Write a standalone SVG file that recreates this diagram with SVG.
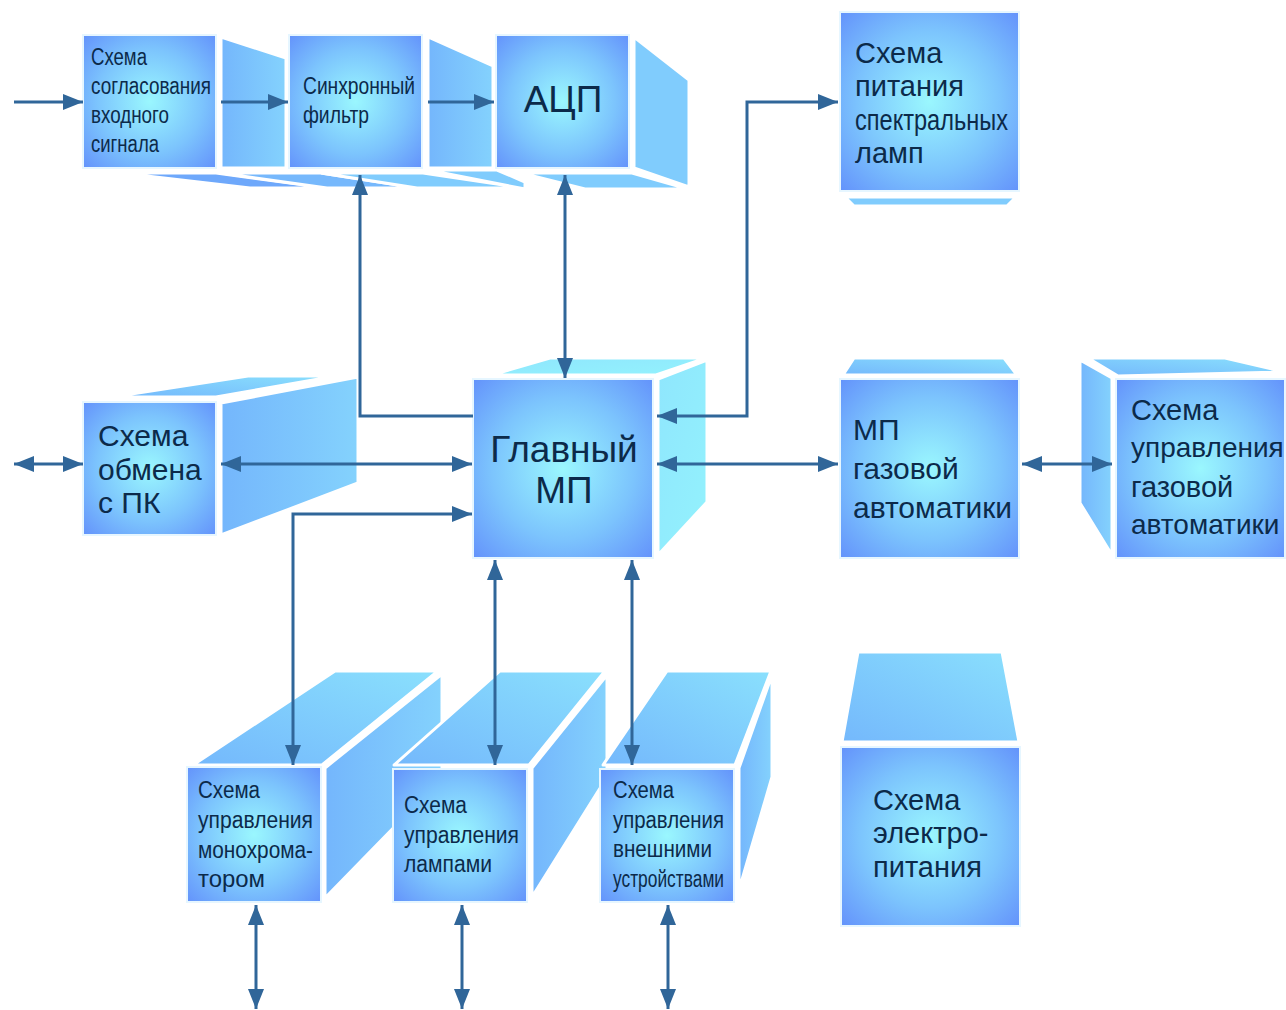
<svg xmlns="http://www.w3.org/2000/svg" width="1286" height="1010" viewBox="0 0 1286 1010">
<defs>
<radialGradient id="gFront" cx="50%" cy="50%" r="72%">
<stop offset="0" stop-color="#9af7fe"/>
<stop offset="0.55" stop-color="#7cc4fd"/>
<stop offset="1" stop-color="#6290fb"/>
</radialGradient>
<linearGradient id="gSide" x1="0" y1="0" x2="1" y2="0">
<stop offset="0" stop-color="#74b6fc"/>
<stop offset="1" stop-color="#84d2fd"/>
</linearGradient>
<linearGradient id="gTop" x1="0" y1="1" x2="1" y2="0">
<stop offset="0" stop-color="#74b8fc"/>
<stop offset="1" stop-color="#8ae0fd"/>
</linearGradient>
<linearGradient id="gCyan" x1="0" y1="0" x2="1" y2="1">
<stop offset="0" stop-color="#8fe6fd"/>
<stop offset="1" stop-color="#93f2fd"/>
</linearGradient>
<marker id="ah" markerUnits="userSpaceOnUse" markerWidth="20" markerHeight="16" refX="20" refY="8" orient="auto-start-reverse">
<path d="M0,0 L20,8 L0,16 z" fill="#306699"/>
</marker>
</defs>
<style>
.front{fill:url(#gFront);stroke:#e6f6ff;stroke-width:2}
.side{fill:url(#gSide);stroke:#ffffff;stroke-width:3;stroke-linejoin:round}
.top{fill:url(#gTop);stroke:#ffffff;stroke-width:3;stroke-linejoin:round}
.cyan{fill:url(#gCyan);stroke:#ffffff;stroke-width:3}
.s1{fill:#6ea8fb;stroke:#fff;stroke-width:3}
.s2{fill:#76b8fc;stroke:#fff;stroke-width:3}
.s3{fill:#80ccfd;stroke:#fff;stroke-width:3}
text{font-family:"Liberation Sans",Arial,sans-serif;fill:#0c2a4a}
.sm{font-size:23px}
.md{font-size:30px}
.lg{font-size:37px}
.conn{fill:none;stroke:#306699;stroke-width:3}
</style>

<g id="n1">
<polygon class="s1" points="121,173 216,173 327,188 250,188"/>
<polygon class="s2" points="221,173 321,173 417,188 327,188"/>
<polygon class="side" points="221,37 286,58 286,168 221,168"/>
<rect class="front" x="83" y="35" width="133" height="133"/>
<text class="sm" x="91" y="65" textLength="56" lengthAdjust="spacingAndGlyphs">Схема</text>
<text class="sm" x="91" y="94" textLength="120" lengthAdjust="spacingAndGlyphs">согласования</text>
<text class="sm" x="91" y="123" textLength="78" lengthAdjust="spacingAndGlyphs">входного</text>
<text class="sm" x="91" y="152" textLength="68" lengthAdjust="spacingAndGlyphs">сигнала</text>
</g>

<g id="n2">
<polygon class="s3" points="321,173 423,173 523,188 417,188"/>
<polygon class="s3" points="428,170 497,170 525,182 525,189"/>
<polygon class="side" points="428,37 493,66 493,168 428,168"/>
<rect class="front" x="289" y="35" width="133" height="133"/>
<text class="sm" x="303" y="94" textLength="112" lengthAdjust="spacingAndGlyphs">Синхронный</text>
<text class="sm" x="303" y="123" textLength="66" lengthAdjust="spacingAndGlyphs">фильтр</text>
</g>

<g id="n3">
<polygon class="s3" points="521,173 632,173 688,189 585,189"/>
<polygon class="s3" points="634,37 689,80 689,187 634,168"/>
<rect class="front" x="496" y="35" width="133" height="133"/>
<text class="lg" x="563" y="112" text-anchor="middle">АЦП</text>
</g>

<g id="n4">
<polygon class="s3" points="845,197 1016,197 1007,206 854,206"/>
<rect class="front" x="840" y="12" width="179" height="179"/>
<text class="md" style="font-size:29px" x="855" y="63">Схема</text>
<text class="md" style="font-size:29px" x="855" y="96">питания</text>
<text class="md" style="font-size:29px" x="855" y="130" textLength="153" lengthAdjust="spacingAndGlyphs">спектральных</text>
<text class="md" style="font-size:29px" x="855" y="163">ламп</text>
</g>

<g id="n5">
<polygon class="top" points="112,397 248,376 336,376 216,397"/>
<polygon class="side" points="221,403 358,377 358,483 221,535"/>
<rect class="front" x="83" y="402" width="133" height="133"/>
<text class="md" x="98" y="446">Схема</text>
<text class="md" x="98" y="480">обмена</text>
<text class="md" x="98" y="513">с ПК</text>
</g>

<g id="n6">
<polygon class="cyan" points="492,375 550,358 706,358 656,375"/>
<polygon class="cyan" points="658,379 707,360 707,502 658,555"/>
<rect class="front" x="473" y="379" width="180" height="179"/>
<text class="lg" x="564" y="462" text-anchor="middle">Главный</text>
<text class="lg" x="564" y="503" text-anchor="middle">МП</text>
</g>

<g id="n7">
<polygon class="top" points="843,375 1017,375 1004,358 854,358"/>
<rect class="front" x="840" y="379" width="179" height="179"/>
<text class="md" x="853" y="440">МП</text>
<text class="md" x="853" y="479">газовой</text>
<text class="md" x="853" y="518">автоматики</text>
</g>

<g id="n8">
<polygon class="top" points="1088,358 1225,358 1285,372 1118,376"/>
<polygon class="side" points="1080,360 1112,378 1112,555 1080,503"/>
<rect class="front" x="1116" y="379" width="169" height="179"/>
<text class="md" style="font-size:29px" x="1131" y="420">Схема</text>
<text class="md" style="font-size:28px" x="1131" y="457">управления</text>
<text class="md" style="font-size:29px" x="1131" y="497">газовой</text>
<text class="md" style="font-size:28px" x="1131" y="534">автоматики</text>
</g>

<g id="n9">
<polygon class="top" points="193,765 335,671 438,671 322,765"/>
<polygon class="side" points="325,768 442,674 442,778 325,898"/>
<rect class="front" x="187" y="767" width="134" height="135"/>
<text class="sm" x="198" y="798" textLength="62" lengthAdjust="spacingAndGlyphs">Схема</text>
<text class="sm" x="198" y="828" textLength="115" lengthAdjust="spacingAndGlyphs">управления</text>
<text class="sm" x="198" y="858" textLength="115" lengthAdjust="spacingAndGlyphs">монохрома-</text>
<text class="sm" x="198" y="887" textLength="67" lengthAdjust="spacingAndGlyphs">тором</text>
</g>

<g id="n10">
<polygon class="top" points="394,765 500,671 605,671 529,765"/>
<polygon class="side" points="532,768 607,675 607,777 532,897"/>
<rect class="front" x="393" y="769" width="134" height="133"/>
<text class="sm" x="404" y="813" textLength="63" lengthAdjust="spacingAndGlyphs">Схема</text>
<text class="sm" x="404" y="843" textLength="115" lengthAdjust="spacingAndGlyphs">управления</text>
<text class="sm" x="404" y="872" textLength="88" lengthAdjust="spacingAndGlyphs">лампами</text>
</g>

<g id="n11">
<polygon class="top" points="603,765 667,671 771,671 735,765"/>
<polygon class="side" points="739,768 772,675 772,777 739,890"/>
<rect class="front" x="600" y="769" width="134" height="133"/>
<text class="sm" x="613" y="798" textLength="61" lengthAdjust="spacingAndGlyphs">Схема</text>
<text class="sm" x="613" y="828" textLength="111" lengthAdjust="spacingAndGlyphs">управления</text>
<text class="sm" x="613" y="857" textLength="99" lengthAdjust="spacingAndGlyphs">внешними</text>
<text class="sm" x="613" y="887" textLength="111" lengthAdjust="spacingAndGlyphs">устройствами</text>
</g>

<g id="n12">
<polygon class="top" points="842,742 1019,742 1002,652 858,652"/>
<rect class="front" x="841" y="747" width="179" height="179"/>
<text class="md" style="font-size:29px" x="873" y="810">Схема</text>
<text class="md" style="font-size:29px" x="873" y="843">электро-</text>
<text class="md" style="font-size:29px" x="873" y="877">питания</text>
</g>

<g id="connectors">
<path class="conn" d="M14,102 H83" marker-end="url(#ah)"/>
<path class="conn" d="M221,102 H288" marker-end="url(#ah)"/>
<path class="conn" d="M428,102 H494" marker-end="url(#ah)"/>
<path class="conn" d="M565,175 V378" marker-start="url(#ah)" marker-end="url(#ah)"/>
<path class="conn" d="M473,416 H360 V175" marker-end="url(#ah)"/>
<path class="conn" d="M657,416 H747 V102 H838" marker-start="url(#ah)" marker-end="url(#ah)"/>
<path class="conn" d="M14,464 H83" marker-start="url(#ah)" marker-end="url(#ah)"/>
<path class="conn" d="M221,464 H472" marker-start="url(#ah)" marker-end="url(#ah)"/>
<path class="conn" d="M657,464 H838" marker-start="url(#ah)" marker-end="url(#ah)"/>
<path class="conn" d="M1022,464 H1112" marker-start="url(#ah)" marker-end="url(#ah)"/>
<path class="conn" d="M472,514 H293 V765" marker-start="url(#ah)" marker-end="url(#ah)"/>
<path class="conn" d="M495,560 V765" marker-start="url(#ah)" marker-end="url(#ah)"/>
<path class="conn" d="M632,560 V765" marker-start="url(#ah)" marker-end="url(#ah)"/>
<path class="conn" d="M256,905 V1009" marker-start="url(#ah)" marker-end="url(#ah)"/>
<path class="conn" d="M462,905 V1009" marker-start="url(#ah)" marker-end="url(#ah)"/>
<path class="conn" d="M668,905 V1009" marker-start="url(#ah)" marker-end="url(#ah)"/>
</g>
</svg>
